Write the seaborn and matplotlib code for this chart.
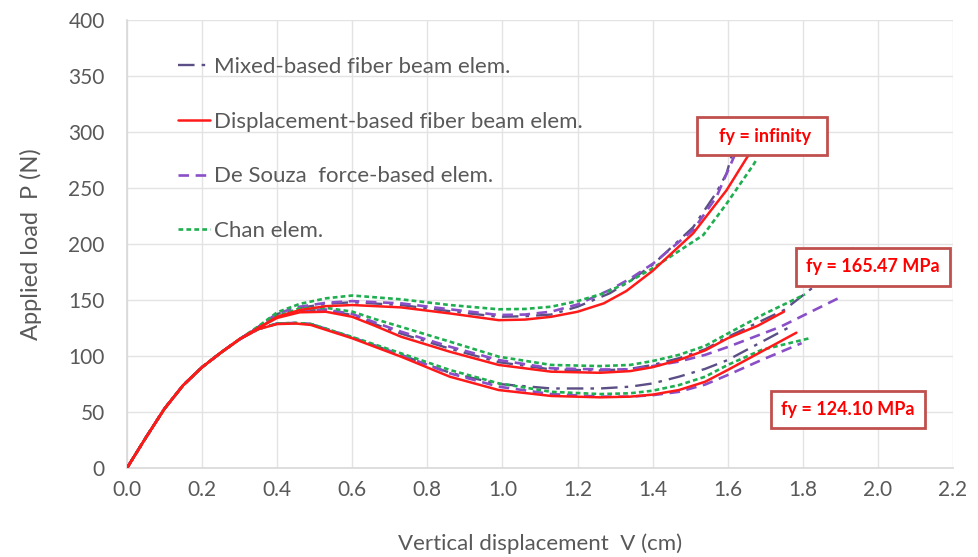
import matplotlib
matplotlib.use("Agg")
import matplotlib.pyplot as plt
import seaborn as sns
import pandas as pd
from matplotlib.lines import Line2D
from matplotlib.patches import Rectangle

# ---- data ----
rise_x = [0.0, 0.05, 0.1, 0.15, 0.2, 0.25, 0.3]
rise_y = [0, 27, 53, 74, 90, 103, 115]

# fy = infinity
inf_red_x = [0.35, 0.4, 0.46, 0.53, 0.6, 0.73, 0.86, 0.99, 1.06, 1.13, 1.2, 1.27, 1.33, 1.4, 1.508, 1.597, 1.65, 1.665]
inf_red_y = [125, 135, 141, 144.5, 145.5, 143.4, 138, 132, 132.5, 135, 139.5, 147, 158, 176, 209.5, 248, 276.5, 284]
inf_chan_x = [0.35, 0.4, 0.46, 0.53, 0.6, 0.73, 0.86, 0.99, 1.06, 1.13, 1.2, 1.27, 1.33, 1.4, 1.535, 1.597, 1.668, 1.678]
inf_chan_y = [126.5, 139, 146.5, 151.5, 154, 150.6, 145.5, 141.7, 142, 144, 149, 156, 165, 178.3, 208, 236, 270.5, 276]
inf_souza_x = [0.35, 0.4, 0.46, 0.53, 0.6, 0.73, 0.86, 0.99, 1.06, 1.13, 1.2, 1.286, 1.34, 1.402, 1.508, 1.57, 1.615, 1.625]
inf_souza_y = [126, 138, 144, 147.5, 149, 147, 141.7, 136.6, 137, 139.6, 146, 159, 169, 182.7, 212.5, 242, 276.5, 284]
inf_mixed_x = [0.35, 0.4, 0.46, 0.53, 0.6, 0.73, 0.86, 0.99, 1.06, 1.13, 1.2, 1.286, 1.34, 1.402, 1.508, 1.57, 1.597, 1.615]
inf_mixed_y = [126, 137.5, 143, 146.5, 148, 145.5, 140, 135, 135.5, 137, 144, 156, 167, 182, 215, 246, 263, 284]

# fy = 165.47 MPa
mid_red_x = [0.35, 0.4, 0.46, 0.53, 0.6, 0.66, 0.73, 0.86, 0.99, 1.13, 1.26, 1.34, 1.4, 1.47, 1.54, 1.6, 1.68, 1.75]
mid_red_y = [125, 134, 139, 139.5, 135, 127, 117.2, 103.8, 92, 86, 85, 86.5, 90, 96.4, 105, 115.8, 127, 139.6]
mid_chan_x = [0.35, 0.4, 0.46, 0.53, 0.6, 0.66, 0.73, 0.86, 0.99, 1.13, 1.26, 1.34, 1.4, 1.47, 1.54, 1.6, 1.7, 1.806]
mid_chan_y = [125.5, 135.5, 142.5, 143, 139.6, 133, 126, 112.8, 99.4, 92, 91, 92, 95.5, 101, 109, 120, 138, 155]
mid_souza_x = [0.35, 0.4, 0.46, 0.53, 0.6, 0.66, 0.73, 0.86, 0.99, 1.13, 1.26, 1.34, 1.4, 1.47, 1.54, 1.6, 1.74, 1.907]
mid_souza_y = [125.5, 135, 141, 141.5, 137.5, 130, 121.7, 108.3, 96.4, 89, 88, 88, 91, 95, 101, 108, 126, 153.6]
mid_mixed_x = [0.35, 0.4, 0.46, 0.53, 0.6, 0.66, 0.73, 0.86, 0.99, 1.13, 1.26, 1.34, 1.4, 1.47, 1.54, 1.6, 1.75, 1.83, 1.94]
mid_mixed_y = [125.5, 135, 140.5, 141, 136.5, 128.5, 120, 106.5, 94.5, 88, 87, 88.5, 92, 98, 106, 117, 141, 162, 198]

# fy = 124.10 MPa
low_red_x = [0.35, 0.4, 0.45, 0.49, 0.51, 0.6, 0.73, 0.86, 0.99, 1.13, 1.26, 1.34, 1.4, 1.47, 1.54, 1.6, 1.69, 1.783]
low_red_y = [124, 128.5, 129, 127.7, 125.5, 115.8, 99.4, 81.5, 69.6, 64.3, 63.1, 63.7, 65.5, 69.6, 77, 87.5, 103.9, 120.8]
low_chan_x = [0.35, 0.4, 0.45, 0.49, 0.51, 0.6, 0.73, 0.86, 0.99, 1.13, 1.26, 1.34, 1.4, 1.47, 1.54, 1.6, 1.69, 1.82]
low_chan_y = [124, 129, 129.5, 128.5, 126.5, 117, 102.4, 87.5, 75.6, 68, 66, 66.7, 69, 74, 81.5, 92, 105.4, 116]
low_souza_x = [0.35, 0.4, 0.45, 0.49, 0.51, 0.6, 0.73, 0.86, 0.99, 1.13, 1.26, 1.34, 1.4, 1.47, 1.54, 1.6, 1.69, 1.797]
low_souza_y = [124, 129, 129.5, 128.5, 126.5, 116.5, 101, 84.5, 72.6, 66, 63.7, 63.7, 65, 68, 74.5, 83, 96.4, 111.5]
low_mixed_x = [0.35, 0.4, 0.45, 0.49, 0.51, 0.6, 0.73, 0.86, 0.99, 1.13, 1.26, 1.34, 1.4, 1.47, 1.54, 1.6, 1.76]
low_mixed_y = [124, 129, 129.5, 128.5, 126.5, 116.5, 101, 85, 75, 71, 71, 72.6, 75.5, 81.5, 88.5, 96.4, 125]

labels = ["Mixed-based fiber beam elem.", "Displacement-based fiber beam elem.",
          "De Souza  force-based elem.", "Chan elem."]
x_ticks = [0.0, 0.2, 0.4, 0.6, 0.8, 1.0, 1.2, 1.4, 1.6, 1.8, 2.0, 2.2]
y_ticks = [0, 50, 100, 150, 200, 250, 300, 350, 400]
box_texts = ["fy = infinity", "fy = 165.47 MPa", "fy = 124.10 MPa"]

# ---- styles ----
styles = {
    "mixed": dict(color="#5B4F86", lw=1.7, ls=(0, (7, 3, 1.5, 3))),
    "red": dict(color="#FF1A1A", lw=1.8, ls="-"),
    "souza": dict(color="#8A4FC7", lw=1.9, ls=(0, (4, 2.5))),
    "chan": dict(color="#1FAE50", lw=1.9, ls=(0, (1.8, 1.2))),
}

sns.set_theme(style="white")
plt.rcParams["font.family"] = ["Lato", "DejaVu Sans"]

fig = plt.figure(figsize=(9.79, 5.57), dpi=100)
ax = fig.add_axes([0.1297, 0.1598, 0.8437, 0.8043])

curves = [
    ("mixed", inf_mixed_x, inf_mixed_y), ("mixed", mid_mixed_x, mid_mixed_y), ("mixed", low_mixed_x, low_mixed_y),
    ("souza", inf_souza_x, inf_souza_y), ("souza", mid_souza_x, mid_souza_y), ("souza", low_souza_x, low_souza_y),
    ("chan", inf_chan_x, inf_chan_y), ("chan", mid_chan_x, mid_chan_y), ("chan", low_chan_x, low_chan_y),
    ("red", inf_red_x, inf_red_y), ("red", mid_red_x, mid_red_y), ("red", low_red_x, low_red_y),
]
for key, xs, ys in curves:
    st = styles[key]
    df = pd.DataFrame({"V": rise_x + xs, "P": rise_y + ys})
    sns.lineplot(data=df, x="V", y="P", ax=ax, color=st["color"], linewidth=st["lw"],
                 linestyle=st["ls"], estimator=None, sort=False, zorder=3)

ax.set_xlim(0, 2.2)
ax.set_ylim(0, 400)
ax.set_xticks(x_ticks)
ax.set_xticklabels([f"{v:.1f}" for v in x_ticks])
ax.set_yticks(y_ticks)
ax.grid(True, color="#E3E3E3", linewidth=1.0)
for s in ["top", "right"]:
    ax.spines[s].set_visible(False)
for s in ["left", "bottom"]:
    ax.spines[s].set_color("#D9D9D9")
ax.tick_params(axis="both", colors="#595959", labelsize=15, length=0)
ax.tick_params(axis="y", pad=16)
ax.tick_params(axis="x", pad=9)
ax.set_xlabel("Vertical displacement  V (cm)", fontsize=16, color="#595959", labelpad=24)
ax.set_ylabel("Applied load  P (N)", fontsize=17, color="#595959", labelpad=19)

# legend
keys = ["mixed", "red", "souza", "chan"]
handles = [Line2D([0], [0], color=styles[k]["color"], lw=styles[k]["lw"], ls=styles[k]["ls"]) for k in keys]
leg = ax.legend(handles, labels, loc="upper left", bbox_to_anchor=(0.051, 0.937), frameon=False,
                fontsize=16, labelspacing=1.56, handlelength=1.45, handletextpad=0.15, borderaxespad=0)
for t in leg.get_texts():
    t.set_color("#595959")

# annotation boxes
boxes = [((1.518, 279.5), 0.346, 33.5, (1.70, 296)),
         ((1.783, 162.5), 0.408, 34, (1.987, 180)),
         ((1.716, 35.5), 0.410, 33.5, (1.92, 52.5))]
for (xy, w, h, txy), txt in zip(boxes, box_texts):
    ax.add_patch(Rectangle(xy, w, h, facecolor="white", edgecolor="#C0504D", lw=2, zorder=5))
    ax.text(txy[0], txy[1], txt, color="#FF0000", fontsize=13, fontweight="bold",
            ha="center", va="center", zorder=6)

fig.savefig("out.png", dpi=100)
